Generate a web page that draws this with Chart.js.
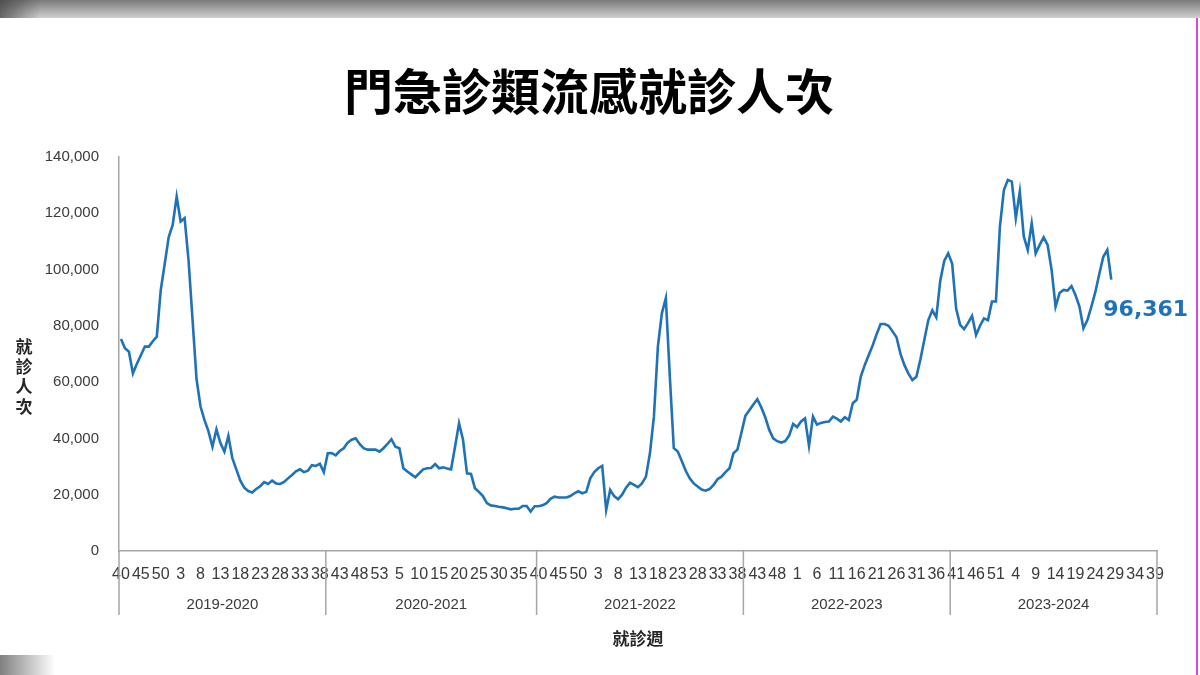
<!DOCTYPE html>
<html>
<head>
<meta charset="utf-8">
<script src="https://cdn.jsdelivr.net/npm/chart.js@4/dist/chart.umd.min.js"></script>
<style>
  html, body { margin: 0; padding: 0; background: #fff; }
  #wrap { position: relative; width: 1200px; height: 675px; overflow: hidden; }
  #topbar { position: absolute; left: 0; top: 0; width: 1200px; height: 18px;
    background: linear-gradient(to bottom, #7a7a7a, #cfcfcf); }
  #topbar:before { content: ''; position: absolute; left: 0; top: 0; width: 40px; height: 18px;
    background: linear-gradient(to right, rgba(60,60,60,0.7), rgba(60,60,60,0)); }
  #botbar { position: absolute; left: 0; top: 655px; width: 55px; height: 20px;
    background: linear-gradient(to right, #808080, #ffffff); }
  #edge { position: absolute; left: 1196px; top: 18px; width: 2px; height: 657px; background: #d44cd4; }
  canvas { position: absolute; left: 0; top: 0; }
</style>
</head>
<body>
<div id="wrap">
  <canvas id="myChart" width="1200" height="675"></canvas>
  <div id="topbar"></div>
  <div id="botbar"></div>
  <div id="edge"></div>
</div>
<script>
// Seasons (week 40 to week 39 of the next year)
const seasons = ['2019-2020', '2020-2021', '2021-2022', '2022-2023', '2023-2024'];
const seasonWeeks = [52, 53, 52, 52, 52];
const firstWeek = 40;
const lastValueLabel = '96,361';

// Weekly visits
const season1 = [75300, 72000, 70800, 63100, 66500, 69500, 72600, 72600, 74500, 76100,
  92700, 102000, 111500, 115800, 125900, 117000, 118200, 103000, 82000, 61000,
  51300, 46500, 42500, 37000, 43200, 38300, 35300, 40900, 33000, 29000,
  25000, 22500, 21300, 20800, 22000, 23000, 24500, 23800, 25000, 24000,
  23800, 24500, 25800, 27000, 28300, 29000, 28000, 28500, 30500, 30200,
  31000, 28000];
const season2 = [34700, 34800, 34000, 35500, 36500, 38500, 39500, 40000, 38000, 36500,
  36000, 36000, 36000, 35300, 36500, 38000, 39700, 37000, 36500, 29400,
  28200, 27200, 26200, 27600, 29000, 29400, 29500, 30900, 29400, 29700,
  29300, 29000, 37000, 45400, 39500, 27600, 27400, 22300, 21000, 19500,
  17000, 16200, 16000, 15700, 15500, 15200, 14800, 15000, 15000, 16000,
  16000, 14000, 15900];
const season3 = [15900, 16200, 17000, 18500, 19300, 19000, 19000, 19000, 19500, 20500,
  21200, 20500, 21000, 25800, 28000, 29400, 30200, 14600, 21700, 19500,
  18400, 20000, 22500, 24300, 23500, 22700, 24000, 26400, 34700, 47700,
  72600, 84400, 89800, 62000, 36500, 35300, 32000, 28500, 25800, 24000,
  22900, 21800, 21400, 22000, 23500, 25500, 26400, 28000, 29400, 34700,
  36000, 42000];
const season4 = [48000, 50000, 52000, 53900, 51000, 47500, 43000, 40000, 39000, 38500,
  39000, 41000, 45100, 44000, 46000, 47100, 37300, 47700, 44900, 45500,
  45800, 46000, 47700, 47000, 46000, 47500, 46500, 52500, 53700, 61900,
  66000, 69500, 73000, 77000, 80600, 80600, 80000, 78000, 75900, 70000,
  66000, 63000, 60700, 61900, 68000, 75000, 82000, 85500, 83000, 96000,
  103000, 105700];
const season5 = [102000, 86000, 80300, 78800, 81000, 83500, 76700, 80000, 82600, 82000,
  88600, 88600, 115200, 128200, 131800, 131200, 118200, 127600, 111700, 106900,
  116400, 105700, 108700, 111400, 108700, 99800, 86800, 91600, 92700, 92500,
  94100, 90900, 86800, 79100, 82000, 86800, 92000, 98500, 104500, 106900,
  96361];

const yTicks = [0, 20000, 40000, 60000, 80000, 100000, 120000, 140000];

// build week labels and the full series
let weekLabels = [];
let seasonStart = [0];
seasonWeeks.forEach((n, s) => {
  for (let w = 0; w < n; w++) {
    let wk = firstWeek + w;
    if (wk > n) wk -= n;
    weekLabels.push(String(wk));
  }
  seasonStart.push(seasonStart[s] + n);
});

let visits = [].concat(season1, season2, season3, season4, season5);
while (visits.length < weekLabels.length) visits.push(null);
const lastIdx = season1.length + season2.length + season3.length + season4.length + season5.length - 1;

const lineColor = '#1F72B8';
const axisColor = '#A6A6A6';
const textColor = '#3a3a3a';

const decor = {
  id: 'decor',
  afterDraw(c) {
    const ctx = c.ctx;
    const x = c.scales.x;
    const y = c.scales.y;
    const half = (x.getPixelForValue(1) - x.getPixelForValue(0)) / 2;
    const base = c.chartArea.bottom;
    ctx.save();

    // season separators
    ctx.strokeStyle = axisColor;
    ctx.lineWidth = 1.5;
    seasonStart.forEach(i => {
      let px = i < weekLabels.length ? x.getPixelForValue(i) - half : x.getPixelForValue(i - 1) + half;
      ctx.beginPath();
      ctx.moveTo(px, base);
      ctx.lineTo(px, base + 64);
      ctx.stroke();
    });

    // season labels
    ctx.fillStyle = textColor;
    ctx.font = '15px "Liberation Sans", "Noto Sans CJK TC"';
    ctx.textAlign = 'center';
    ctx.textBaseline = 'middle';
    seasons.forEach((s, k) => {
      let a = x.getPixelForValue(seasonStart[k]) - half;
      let b = x.getPixelForValue(seasonStart[k + 1] - 1) + half;
      ctx.fillText(s, (a + b) / 2, base + 54);
    });

    // y title, stacked
    ctx.font = 'bold 17px "Noto Sans CJK TC"';
    ctx.fillStyle = '#262626';
    ['就', '診', '人', '次'].forEach((ch, k) => {
      ctx.fillText(ch, 24, 347 + k * 20);
    });

    // last value label
    ctx.font = 'bold 22px "DejaVu Sans"';
    ctx.fillStyle = lineColor;
    ctx.textAlign = 'left';
    ctx.fillText(lastValueLabel, x.getPixelForValue(lastIdx) - 8, y.getPixelForValue(visits[lastIdx]) + 31);
    ctx.restore();
  }
};

const ctx = document.getElementById('myChart').getContext('2d');

new Chart(ctx, {
  type: 'line',
  data: {
    labels: weekLabels,
    datasets: [{
      label: '就診人次',
      data: visits,
      borderColor: lineColor,
      borderWidth: 2.6,
      pointRadius: 0,
      tension: 0,
      fill: false
    }]
  },
  options: {
    responsive: false,
    animation: false,
    layout: { padding: { left: 21, right: 43, top: 0, bottom: 0 } },
    plugins: {
      legend: { display: false },
      tooltip: { enabled: false },
      title: {
        display: true,
        text: '門急診類流感就診人次',
        color: '#000',
        font: { family: '"Noto Sans CJK TC"', size: 49, weight: 'bold', lineHeight: 1.2 },
        padding: { top: 62, bottom: 36 }
      }
    },
    scales: {
      x: {
        type: 'category',
        offset: true,
        grid: { display: false, drawTicks: false },
        border: { display: true, color: axisColor, width: 1.5 },
        ticks: {
          autoSkip: false,
          maxRotation: 0,
          minRotation: 0,
          padding: 14,
          color: textColor,
          font: { family: '"Liberation Sans"', size: 16 },
          callback: (v, i) => (i % 5 === 0 ? weekLabels[i] : '')
        },
        title: {
          display: true,
          text: '就診週',
          color: '#262626',
          font: { family: '"Noto Sans CJK TC"', size: 17, weight: 'bold' },
          padding: { top: 0, bottom: 26 }
        },
        afterFit: s => { s.height = 124; }
      },
      y: {
        min: 0,
        max: 140000,
        grid: { display: false, drawTicks: false },
        border: { display: true, color: axisColor, width: 1.5 },
        afterBuildTicks: s => { s.ticks = yTicks.map(v => ({ value: v })); },
        ticks: {
          padding: 20,
          color: textColor,
          font: { family: '"Liberation Sans"', size: 15 },
          callback: v => v.toLocaleString('en-US')
        },
        afterFit: s => { s.width = 98; }
      }
    }
  },
  plugins: [decor]
});
</script>
</body>
</html>
